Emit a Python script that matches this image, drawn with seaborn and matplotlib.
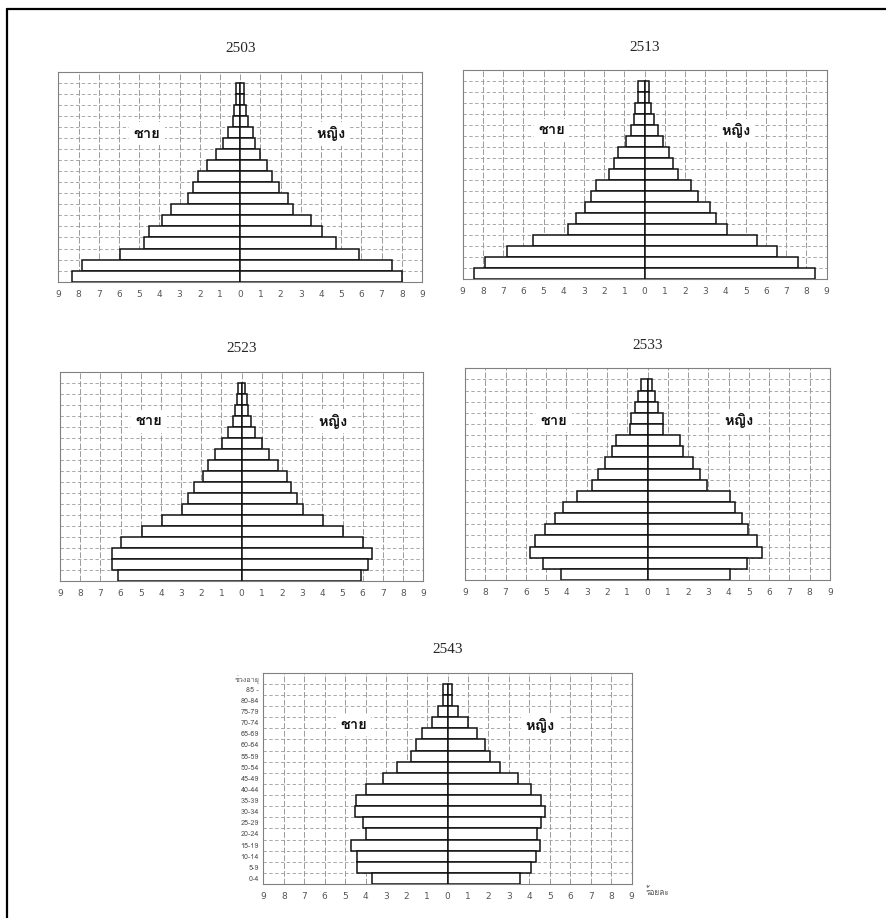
import numpy as np
import pandas as pd
import matplotlib
matplotlib.use("Agg")
import matplotlib.pyplot as plt
import seaborn as sns
from matplotlib import font_manager as fm
from matplotlib.ft2font import FT2Font
from matplotlib.lines import Line2D

# ---------------- data ----------------
age_groups = ["0-4", "5-9", "10-14", "15-19", "20-24", "25-29", "30-34", "35-39",
              "40-44", "45-49", "50-54", "55-59", "60-64", "65-69", "70-74",
              "75-79", "80-84", "85+"]
age_tick_labels = ["0-4", "5-9", "10-14", "15-19", "20-24", "25-29", "30-34", "35-39",
                   "40-44", "45-49", "50-54", "55-59", "60-64", "65-69", "70-74",
                   "75-79", "80-84", "85 -"]
years = ["2503", "2513", "2523", "2533", "2543"]

male_2503 = [8.3, 7.84, 5.94, 4.74, 4.49, 3.88, 3.43, 2.59, 2.31, 2.1, 1.65, 1.2, 0.87, 0.58, 0.33, 0.28, 0.2, 0.2]
female_2503 = [8.0, 7.51, 5.86, 4.75, 4.04, 3.5, 2.64, 2.36, 1.9, 1.57, 1.32, 0.99, 0.74, 0.66, 0.41, 0.3, 0.2, 0.2]

male_2513 = [8.43, 7.9, 6.82, 5.54, 3.8, 3.39, 2.97, 2.64, 2.4, 1.77, 1.54, 1.32, 0.91, 0.66, 0.53, 0.5, 0.33, 0.33]
female_2513 = [8.4, 7.6, 6.56, 5.54, 4.05, 3.55, 3.22, 2.64, 2.31, 1.65, 1.4, 1.21, 0.91, 0.66, 0.45, 0.33, 0.22, 0.22]

male_2523 = [6.14, 6.44, 6.44, 5.99, 4.95, 3.96, 2.97, 2.64, 2.36, 1.9, 1.65, 1.32, 0.99, 0.66, 0.45, 0.33, 0.21, 0.17]
female_2523 = [5.89, 6.27, 6.44, 6.02, 5.03, 4.04, 3.05, 2.76, 2.43, 2.23, 1.82, 1.37, 0.99, 0.66, 0.45, 0.33, 0.25, 0.17]

male_2533 = [4.28, 5.15, 5.81, 5.56, 5.07, 4.57, 4.16, 3.5, 2.76, 2.43, 2.11, 1.73, 1.53, 0.87, 0.79, 0.63, 0.46, 0.3]
female_2533 = [4.06, 4.9, 5.65, 5.4, 4.98, 4.66, 4.33, 4.05, 2.93, 2.6, 2.26, 1.77, 1.6, 0.77, 0.77, 0.53, 0.36, 0.2]

male_2543 = [3.71, 4.43, 4.43, 4.7, 3.96, 4.15, 4.52, 4.48, 3.96, 3.14, 2.46, 1.77, 1.53, 1.25, 0.76, 0.46, 0.21, 0.21]
female_2543 = [3.56, 4.09, 4.3, 4.5, 4.38, 4.55, 4.76, 4.55, 4.09, 3.43, 2.58, 2.09, 1.81, 1.43, 1.02, 0.53, 0.2, 0.2]

x_ticks = list(range(-9, 10))
x_tick_labels = [str(abs(v)) for v in x_ticks]

male_label = "ชาย"
female_label = "หญิง"
y_axis_title = "ช่วงอายุ"
x_axis_title = "ร้อยละ"

males = [male_2503, male_2513, male_2523, male_2533, male_2543]
females = [female_2503, female_2513, female_2523, female_2533, female_2543]

# ---------------- fonts ----------------
sns.set_style("white")


def find_thai_font():
    best = None
    for f in fm.fontManager.ttflist:
        try:
            cm = FT2Font(f.fname).get_charmap()
        except Exception:
            continue
        if all(c in cm for c in (0x0E0A, 0x0E0D, 0x0E34, 0x0E48, 0x0E38)):
            if f.weight in (400, "normal", "regular") and f.style == "normal":
                return f.name
            if best is None:
                best = f.name
    return best


thai = find_thai_font()
thai_family = ([thai] if thai else []) + ["DejaVu Sans"]
plt.rcParams["font.family"] = ["DejaVu Sans"]

# ---------------- figure ----------------
W, H = 886, 918
fig = plt.figure(figsize=(W / 100, H / 100), dpi=100)
fig.patch.set_facecolor("white")

# panel frames in pixel coordinates (left, top, right, bottom)
frames = [
    (58.3, 71.7, 422.0, 281.7),
    (462.7, 70.0, 826.7, 279.0),
    (60.0, 371.7, 423.3, 580.7),
    (465.0, 368.3, 830.0, 580.0),
    (263.3, 672.7, 631.7, 884.0),
]
label_rows = [12.9, 13.0, 14.0, 13.8, 13.8]

grid_color = "#9a9a9a"
n = len(age_groups)

for i, (yr, m, f, (l, t, r, b)) in enumerate(zip(years, males, females, frames)):
    ax = fig.add_axes([l / W, 1 - b / H, (r - l) / W, (b - t) / H])
    df = pd.DataFrame({
        "age": age_groups[::-1],
        "male": [-v for v in m[::-1]],
        "female": f[::-1],
    })
    order = age_groups[::-1]
    sns.barplot(data=df, x="male", y="age", order=order, orient="h",
                color="white", edgecolor="#111111", linewidth=1.1, width=1.0,
                saturation=1, ax=ax, zorder=3)
    sns.barplot(data=df, x="female", y="age", order=order, orient="h",
                color="white", edgecolor="#111111", linewidth=1.1, width=1.0,
                saturation=1, ax=ax, zorder=3)
    ax.set_xlim(-9, 9)
    ax.set_ylim(n - 0.5, -1.5)
    ax.set_xlabel("")
    ax.set_ylabel("")
    # grid
    for xv in x_ticks:
        ax.axvline(xv, color=grid_color, lw=0.7, ls=(0, (6, 2)), zorder=1)
    for yv in np.arange(-1.5, n, 1.0):
        ax.axhline(yv, color=grid_color, lw=0.6, ls=(0, (4, 3)), zorder=1)
    for s in ax.spines.values():
        s.set_color("#808080")
        s.set_linewidth(0.8)
        s.set_visible(True)
    ax.set_xticks(x_ticks)
    ax.set_xticklabels(x_tick_labels, fontsize=6.5, color="#555555",
                       family=["DejaVu Sans"])
    ax.tick_params(axis="x", length=0, pad=6)
    if i == 4:
        ax.set_yticks(list(range(n)) + [-1])
        ax.set_yticklabels(age_tick_labels[::-1] + [y_axis_title], fontsize=5.2,
                           color="#555555", family=thai_family)
        ax.tick_params(axis="y", length=0, pad=3)
        ax.text(9.7, n - 0.5 + 0.75, x_axis_title, fontsize=6, color="#555555",
                family=thai_family, ha="left", va="center", clip_on=False)
    else:
        ax.set_yticks([])
    # sex labels
    yrow = n - 1 - label_rows[i]
    for xpos, txt in ((-4.6, male_label), (4.5, female_label)):
        ax.text(xpos, yrow, txt, fontsize=10.5, ha="center", va="center",
                family=thai_family, color="#111111", fontweight="bold", zorder=5,
                bbox=dict(boxstyle="square,pad=0.3", fc="white", ec="none"))
    # year title
    ax.set_title(yr, fontsize=11, family=["Liberation Serif", "DejaVu Serif"],
                 pad=14)

# outer border: top and left
fig.add_artist(Line2D([7 / W, 1.0], [1 - 9 / H, 1 - 9 / H], color="black", lw=1.6,
                      transform=fig.transFigure))
fig.add_artist(Line2D([7 / W, 7 / W], [1 - 9 / H, 0.0], color="black", lw=1.6,
                      transform=fig.transFigure))

fig.savefig("out.png", dpi=100, facecolor="white")
